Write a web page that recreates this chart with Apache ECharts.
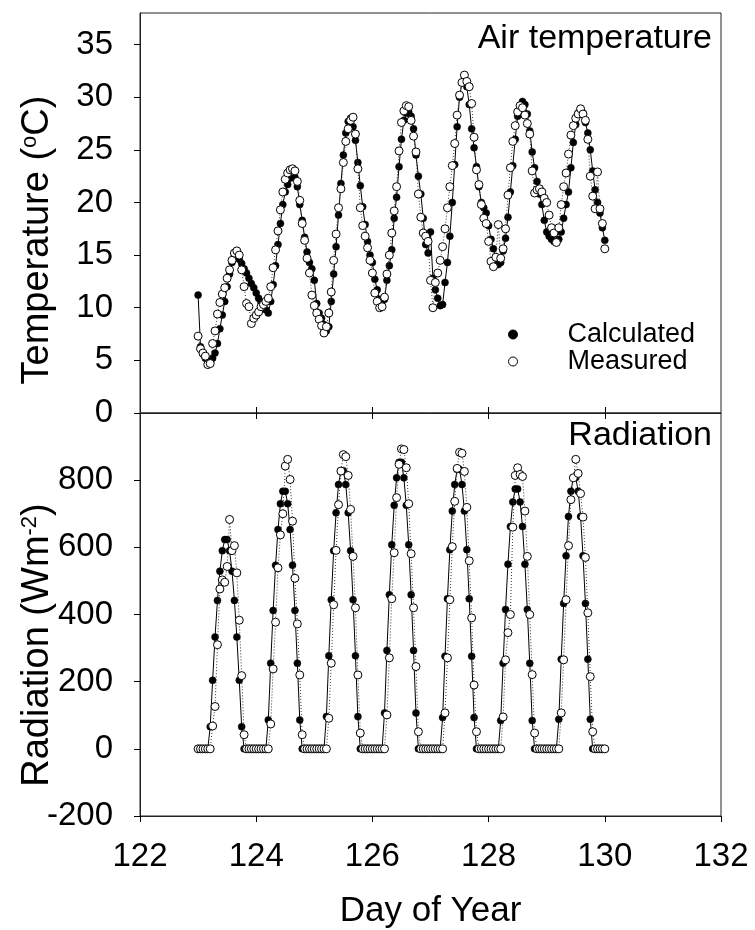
<!DOCTYPE html>
<html>
<head>
<meta charset="utf-8">
<script src="https://cdn.jsdelivr.net/npm/echarts@6/dist/echarts.min.js"></script>
<style>
html,body{margin:0;padding:0;background:#fff;}
#chart{width:755px;height:930px;}
</style>
</head>
<body>
<div id="chart"></div>
<script>
// ---- data (hourly, starting at day 123.0) ----
const startDay = 123;
const hoursPerDay = 24;

const xTicks = [122, 124, 126, 128, 130, 132];
const tempTicks = [0, 5, 10, 15, 20, 25, 30, 35];
const radTicks = [-200, 0, 200, 400, 600, 800];

const calcTemp = [
  11.2, 6.3, 5.6, 5.2, 4.9, 4.8, 5.2, 5.7, 6.6, 8.0, 9.3, 10.6, 12.0, 13.2, 14.3, 15.0, 15.3, 14.6, 14.2, 13.7, 13.3, 12.8, 12.3, 11.9,
  11.4, 10.9, 10.5, 10.1, 9.8, 9.5, 10.6, 12.2, 14.0, 16.0, 18.0, 19.8, 21.0, 21.7, 22.3, 22.6, 22.4, 21.5, 19.8, 18.3, 16.7, 15.3, 14.3, 13.7,
  12.6, 10.4, 9.5, 9.0, 8.4, 7.8, 8.2, 10.6, 13.2, 15.8, 18.8, 21.8, 24.5, 26.6, 27.7, 28.0, 27.2, 25.9, 23.8, 21.6, 19.6, 17.9, 16.3, 15.0,
  14.3, 12.7, 11.7, 10.8, 10.6, 10.8, 12.6, 14.0, 15.5, 18.5, 20.5, 23.4, 26.0, 27.8, 28.5, 28.6, 28.2, 27.0, 24.5, 22.5, 20.8, 18.5, 16.0, 15.2,
  17.2, 12.8, 11.7, 10.9, 10.2, 10.3, 12.4, 14.3, 16.8, 20.0, 23.6, 27.2, 30.0, 31.4, 31.7, 31.0, 29.3, 27.0, 25.2, 23.4, 21.5, 20.0, 19.5, 19.0,
  17.8, 16.5, 15.6, 14.6, 14.1, 14.3, 15.4, 16.6, 18.6, 21.0, 23.5, 26.0, 28.2, 29.2, 29.6, 29.3, 28.4, 26.8, 24.8, 23.3, 22.0, 20.8, 19.8, 18.3,
  17.2, 16.8, 16.5, 16.3, 16.3, 16.5, 17.2, 18.5, 19.8, 21.0, 23.3, 25.7, 27.4, 28.5, 28.8, 28.5, 27.6, 26.6, 25.0, 23.0, 21.2, 20.0, 19.0, 17.6,
  16.4
];

const measTemp = [
  7.3, 6.1, 5.7, 5.4, 4.6, 4.7, 6.6, 7.8, 9.4, 10.5, 11.3, 11.9, 12.8, 13.6, 14.5, 15.2, 15.4, 15.0, 13.6, 12.0, 10.4, 10.1, 8.5, 9.0,
  9.3, 9.6, 10.1, 10.3, 10.6, 10.9, 12.0, 13.8, 15.5, 17.3, 19.3, 21.0, 22.2, 22.8, 23.1, 23.2, 23.0, 22.0, 20.2, 18.0, 16.4, 14.7, 13.3, 11.2,
  10.2, 9.5, 8.9, 8.3, 7.6, 8.2, 9.5, 11.5, 14.5, 17.0, 19.5, 21.3, 23.8, 25.8, 27.0, 27.8, 28.1, 26.5, 23.2, 19.5, 17.8, 16.8, 15.7, 14.5,
  13.3, 11.4, 10.6, 10.0, 10.1, 11.0, 13.2, 15.0, 17.1, 19.2, 21.5, 24.9, 27.6, 28.7, 29.2, 29.1, 27.8, 26.3, 24.8, 20.8, 18.6, 17.1, 16.8, 16.3,
  12.6, 10.0, 12.4, 13.3, 14.5, 15.8, 17.5, 19.5, 21.5, 23.5, 25.6, 28.3, 30.2, 31.4, 32.1, 31.5, 31.0, 29.4, 26.2, 23.1, 21.7, 19.8, 18.5, 18.0,
  16.3, 14.4, 13.9, 14.8, 17.9, 14.7, 15.6, 17.5, 20.7, 23.3, 25.8, 27.3, 28.6, 29.2, 29.0, 28.3, 27.5, 26.5, 23.0, 20.9, 21.2, 21.3, 21.0, 20.4,
  20.0, 18.8, 17.6, 17.1, 16.2, 17.6, 19.8, 21.5, 22.8, 24.6, 26.4, 27.3, 28.0, 28.4, 28.9, 28.4, 27.8, 26.0, 22.5, 20.6, 19.4, 22.9, 19.4, 18.0,
  15.6
];

const calcRad = [
  0, 0, 0, 0, 0, 66, 204, 333, 442, 529, 590, 623, 623, 590, 529, 442, 333, 204, 66, 0, 0, 0, 0, 0,
  0, 0, 0, 0, 0, 86, 255, 412, 547, 653, 730, 767, 767, 730, 653, 547, 412, 255, 86, 0, 0, 0, 0, 0,
  0, 0, 0, 0, 0, 96, 277, 444, 590, 703, 787, 828, 828, 787, 703, 590, 444, 277, 96, 0, 0, 0, 0, 0,
  0, 0, 0, 0, 0, 107, 293, 459, 608, 725, 807, 853, 853, 807, 725, 608, 459, 293, 107, 0, 0, 0, 0, 0,
  0, 0, 0, 0, 0, 93, 276, 447, 593, 708, 787, 832, 832, 787, 708, 593, 447, 276, 93, 0, 0, 0, 0, 0,
  0, 0, 0, 0, 0, 84, 255, 415, 550, 662, 735, 774, 774, 735, 662, 550, 415, 255, 84, 0, 0, 0, 0, 0,
  0, 0, 0, 0, 0, 88, 267, 433, 575, 692, 767, 808, 808, 767, 692, 575, 433, 267, 88, 0, 0, 0, 0, 0,
  0
];

const measRad = [
  0, 0, 0, 0, 0, 0, 68, 126, 310, 476, 503, 496, 543, 683, 590, 605, 524, 383, 218, 42, 0, 0, 0, 0,
  0, 0, 0, 0, 0, 0, 74, 238, 377, 539, 637, 700, 842, 862, 802, 678, 508, 372, 220, 42, 0, 0, 0, 0,
  0, 0, 0, 0, 0, 0, 91, 255, 429, 591, 727, 827, 876, 870, 814, 713, 573, 420, 220, 47, 0, 0, 0, 0,
  0, 0, 0, 0, 0, 0, 101, 271, 447, 584, 748, 847, 893, 891, 837, 730, 581, 420, 245, 51, 0, 0, 0, 0,
  0, 0, 0, 0, 0, 0, 107, 271, 444, 602, 737, 835, 883, 880, 826, 719, 560, 390, 190, 51, 0, 0, 0, 0,
  0, 0, 0, 0, 0, 0, 95, 265, 346, 400, 660, 814, 837, 817, 811, 708, 573, 400, 221, 47, 0, 0, 0, 0,
  0, 0, 0, 0, 0, 0, 107, 265, 444, 605, 742, 807, 862, 820, 760, 690, 570, 405, 215, 51, 0, 0, 0, 0,
  0
];

// ---- chart ----
const FONT = "'Liberation Sans', Arial, Helvetica, sans-serif";
const toPairs = arr => arr.map((v, i) => [startDay + i / hoursPerDay, v]);

const chart = echarts.init(document.getElementById('chart'), null, {renderer: 'canvas'});

const frameColor = '#222';
const calcStyle = {
  type: 'line', symbol: 'circle', symbolSize: 7, showAllSymbol: true,
  itemStyle: {color: '#000', borderColor: '#000', borderWidth: 0.5},
  lineStyle: {color: '#000', width: 1}, z: 3, animation: false
};
const measStyle = {
  type: 'line', symbol: 'circle', symbolSize: 8, showAllSymbol: true,
  itemStyle: {color: '#fff', borderColor: '#000', borderWidth: 1},
  lineStyle: {color: '#333', width: 1, type: [1, 2]}, z: 4, animation: false
};

const tickLabel = {fontFamily: FONT, fontSize: 33, color: '#000'};
const innerXTicks = xTicks.slice(1, -1);
const supRich = {sup: {fontFamily: FONT, fontSize: 22, fill: '#000', verticalAlign: 'top', lineHeight: 22}};

chart.setOption({
  backgroundColor: '#fff',
  animation: false,
  textStyle: {fontFamily: FONT},
  grid: [
    {left: 140, top: 13, width: 581, height: 400, show: true, borderColor: frameColor, borderWidth: 1,
     backgroundColor: 'transparent', outerBoundsMode: 'none', containLabel: false},
    {left: 140, top: 413, width: 581, height: 403, show: true, borderColor: frameColor, borderWidth: 1,
     backgroundColor: 'transparent', outerBoundsMode: 'none', containLabel: false}
  ],
  xAxis: [
    {gridIndex: 0, type: 'value', min: 122, max: 132, interval: 2, position: 'bottom',
     axisLine: {show: true, onZero: false, lineStyle: {color: frameColor, width: 1}},
     axisTick: {show: true, length: 6, customValues: innerXTicks, lineStyle: {color: '#000'}},
     axisLabel: {show: false}, splitLine: {show: false}},
    {gridIndex: 1, type: 'value', min: 122, max: 132, interval: 2, position: 'bottom',
     axisLine: {show: true, onZero: false, lineStyle: {color: frameColor, width: 1}},
     axisTick: {show: true, length: 6, customValues: xTicks, lineStyle: {color: '#000'}},
     axisLabel: Object.assign({margin: 24, customValues: xTicks}, tickLabel),
     splitLine: {show: false},
     name: 'Day of Year', nameLocation: 'middle', nameGap: 78,
     nameTextStyle: {fontFamily: FONT, fontSize: 35, color: '#000'}},
    {gridIndex: 1, type: 'value', min: 122, max: 132, interval: 2, position: 'top',
     axisLine: {show: false, onZero: false},
     axisTick: {show: true, length: 6, customValues: innerXTicks, lineStyle: {color: '#000'}},
     axisLabel: {show: false}, splitLine: {show: false}}
  ],
  yAxis: [
    {gridIndex: 0, type: 'value', min: 0, max: 38,
     axisLine: {show: true, onZero: false, lineStyle: {color: frameColor, width: 1}},
     axisTick: {show: true, length: 6, customValues: tempTicks, lineStyle: {color: '#000'}},
     axisLabel: Object.assign({margin: 27, customValues: tempTicks}, tickLabel),
     splitLine: {show: false}},
    {gridIndex: 1, type: 'value', min: -200, max: 1000,
     axisLine: {show: true, onZero: false, lineStyle: {color: frameColor, width: 1}},
     axisTick: {show: true, length: 6, customValues: radTicks, lineStyle: {color: '#000'}},
     axisLabel: Object.assign({margin: 27, customValues: radTicks}, tickLabel),
     splitLine: {show: false}}
  ],
  legend: {
    orient: 'vertical', left: 503, top: 316, itemWidth: 9, itemHeight: 9, itemGap: 0,
    selectedMode: false, icon: 'circle',
    textStyle: {fontFamily: FONT, fontSize: 27, color: '#000', lineHeight: 26, padding: [0, 0, 0, 45]},
    data: [
      {name: 'Calculated', icon: 'circle', itemStyle: {color: '#000', borderColor: '#000', borderWidth: 1}},
      {name: 'Measured', icon: 'circle', itemStyle: {color: '#fff', borderColor: '#000', borderWidth: 1}}
    ]
  },
  graphic: [
    {type: 'text', x: 712, y: 39, z: 10,
     style: {text: 'Air temperature', fill: '#000', font: "34px " + FONT, align: 'right', verticalAlign: 'middle'}},
    {type: 'text', x: 712, y: 436, z: 10,
     style: {text: 'Radiation', fill: '#000', font: "34px " + FONT, align: 'right', verticalAlign: 'middle'}},
    {type: 'text', x: 38, y: 240, rotation: Math.PI / 2, z: 10,
     style: {text: 'Temperature ({sup|o}C)', fill: '#000', font: "38px " + FONT, align: 'center', verticalAlign: 'middle',
             rich: supRich}},
    {type: 'text', x: 38, y: 645, rotation: Math.PI / 2, z: 10,
     style: {text: 'Radiation (Wm{sup|-2})', fill: '#000', font: "38px " + FONT, align: 'center', verticalAlign: 'middle',
             rich: supRich}}
  ],
  series: [
    Object.assign({name: 'Calculated', xAxisIndex: 0, yAxisIndex: 0, data: toPairs(calcTemp)}, calcStyle),
    Object.assign({name: 'Measured', xAxisIndex: 0, yAxisIndex: 0, data: toPairs(measTemp)}, measStyle),
    Object.assign({name: 'Calculated', xAxisIndex: 1, yAxisIndex: 1, data: toPairs(calcRad)}, calcStyle),
    Object.assign({name: 'Measured', xAxisIndex: 1, yAxisIndex: 1, data: toPairs(measRad)}, measStyle)
  ]
});
</script>
</body>
</html>
